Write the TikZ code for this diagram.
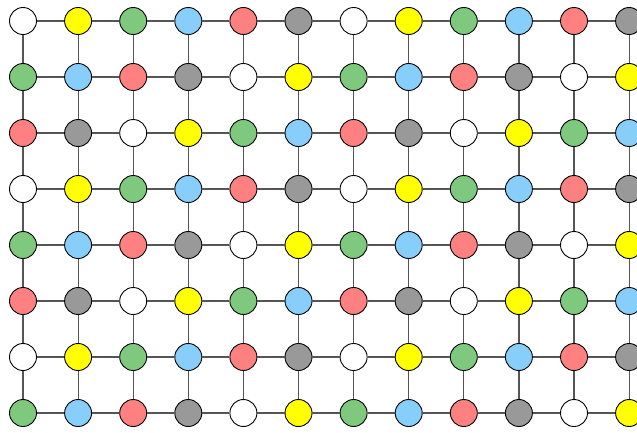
\documentclass[tikz,border=0pt]{standalone}
\definecolor{cW}{HTML}{FFFFFF}
\definecolor{cY}{HTML}{FFFF00}
\definecolor{cG}{HTML}{7FC97F}
\definecolor{cB}{HTML}{87CEFA}
\definecolor{cR}{HTML}{FF8080}
\definecolor{cK}{HTML}{999999}
\definecolor{edgegray}{HTML}{555555}
\tikzset{
  vtx/.style={circle, draw=black, line width=0.9pt, minimum size=27pt, inner sep=0pt},
  edgeline/.style={draw=edgegray, line width=1.2pt},
}
\begin{document}
\begin{tikzpicture}[x=1pt,y=-1pt]
\useasboundingbox (0,0) rectangle (637,432);
% nodes
\foreach \j in {0,...,7} {
  \foreach \i in {0,...,11} {
    \pgfmathtruncatemacro{\k}{mod(\i+2*\j,6)}
    \ifcase\k \def\cc{cW}\or \def\cc{cY}\or \def\cc{cG}\or \def\cc{cB}\or \def\cc{cR}\or \def\cc{cK}\fi
    \node[vtx, fill=\cc] (n-\i-\j) at ({23+55.1*\i},{21+56*\j}) {};
  }
}
% edges (behind nodes)
\begin{scope}[on background layer/.try]
\end{scope}
\foreach \j in {0,...,7} {
  \foreach \i [evaluate=\i as \ni using int(\i+1)] in {0,...,10} {
    \draw[edgeline] (n-\i-\j) -- (n-\ni-\j);
  }
}
\foreach \i in {0,...,11} {
  \foreach \j [evaluate=\j as \nj using int(\j+1)] in {0,...,6} {
    \draw[edgeline] (n-\i-\j) -- (n-\i-\nj);
  }
}
\end{tikzpicture}
\end{document}
